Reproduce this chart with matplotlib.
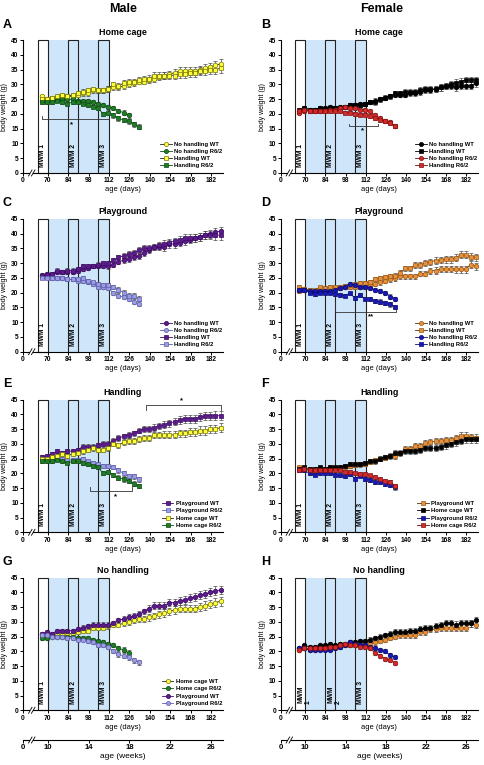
# Body weight curves, male / female, home cage vs playground, handling vs no handling
import matplotlib.pyplot as plt
from matplotlib.lines import Line2D
from matplotlib.patches import Rectangle

plt.rcParams['font.family'] = ['Liberation Sans', 'DejaVu Sans']
plt.rcParams['font.weight'] = 'bold'

# age of the weighings (days)
days_wt = [66, 69.5, 73, 76.5, 80, 83.5, 87, 90.5, 94, 97.5, 101, 104.5, 108, 111.5,
           115, 118.5, 122, 125.5, 129, 132.5, 136, 139.5, 143, 146.5, 150, 153.5,
           157, 160.5, 164, 167.5, 171, 174.5, 178, 181.5, 185, 188.5]
days_tg = days_wt[:20]

# male body weights (g): hc = home cage, pg = playground, nh = no handling, h = handling
m_hc_nh_wt = [26, 25, 25.5, 25.5, 26, 26, 26, 26.5, 27, 27, 28, 28, 28, 28.5, 29, 29, 29.5, 30,
              30.5, 31, 31, 31.5, 32, 32.5, 33, 33.5, 34, 34.5, 34.5, 34.5, 34.5, 35, 35.5, 36, 36.5, 37]
m_hc_h_wt = [25, 25, 25.5, 26, 26.5, 26, 26.5, 27, 27.5, 28, 28.5, 28, 28, 28.5, 30, 29.5, 30.5, 31,
             31, 31.5, 32, 32, 33, 33, 33, 33, 33, 33.5, 33.5, 34, 34, 34.5, 34.5, 35, 35, 35.5]
m_pg_nh_wt = [26, 26.5, 26, 27, 27, 27, 27, 27.5, 28, 28.5, 29, 29, 29, 29, 29.5, 30.5, 31, 31.5,
              32, 32.5, 33.5, 34.5, 35.5, 35.5, 35.5, 36.5, 36.5, 37, 37.5, 38, 38.5, 39, 39.5, 40, 40.5, 40.8]
m_pg_h_wt = [25.5, 26, 26.5, 27.5, 27, 27.5, 27.5, 28, 29, 29, 29, 29.5, 30, 30, 31, 32, 32.5, 33,
             33.5, 34.5, 35, 35, 35.5, 36, 36.5, 37, 37.5, 38, 38.5, 38.5, 38.5, 39, 39.5, 39.5, 39.5, 39.5]
m_hc_nh_tg = [24.5, 24.5, 25, 25, 25, 25, 25, 24.5, 24.5, 24.5, 24, 23.5, 23, 22.5, 22, 21, 20.5, 19.5]
m_hc_h_tg = [24, 24, 24, 24.5, 24, 23.5, 24, 24, 23.5, 23, 22.5, 22, 20, 20.5, 19.5, 18.5, 18, 17.5, 16.5, 15.7]
m_pg_nh_tg = [25.5, 25.5, 25, 25, 25, 24.5, 24.5, 24, 24, 23.5, 23, 22, 22, 21.5, 20, 19, 18.5, 18, 17, 16.3]
m_pg_h_tg = [25, 25, 25, 25, 25, 24.5, 24.5, 24.5, 25, 24, 23.5, 23, 22.5, 22.5, 22, 21, 20, 19, 19, 18]

# female body weights (g)
f_hc_nh_wt = [21, 22, 21.5, 21.5, 22, 22, 22.5, 22, 22.5, 22.5, 23, 23, 23.5, 23.5, 24, 24.5, 25, 25.5,
              26, 26.5, 26.5, 26.5, 27, 27, 27.5, 28, 28, 28.5, 29, 29.5, 29.5, 29, 29.5, 29.5, 29.5, 30.5]
f_hc_h_wt = [21.5, 22, 21.5, 21.5, 22, 21.5, 22, 22, 22, 22.5, 23, 23, 23, 23.5, 24, 24, 25, 25.5,
             26, 27, 27, 27.5, 27.5, 27.5, 28, 28.5, 28.5, 28.5, 29, 29.5, 30, 30.5, 31, 31.5, 31.5, 31.5]
f_pg_nh_wt = [20.5, 21, 20.5, 20.5, 21, 21, 21, 21.5, 21.5, 22, 22, 22, 22, 22, 22.5, 23, 23.5, 24,
              24.5, 25, 25.5, 25.5, 25.5, 25.5, 26.5, 26.5, 27.5, 27.5, 28, 28, 28, 28, 28, 28, 29.5, 29]
f_pg_h_wt = [22, 21.3, 21, 20.9, 21.8, 21.5, 22, 21.8, 22, 22.3, 22.5, 22.8, 23.2, 23.2, 23.7, 24.5, 24.9, 25.2,
             25.7, 25.8, 26.8, 28.3, 28.3, 29.4, 29.4, 30.2, 30.5, 30.9, 31, 31.3, 31.3, 31.9, 32.8, 32.8, 32.2, 32]
f_hc_nh_tg = [20.5, 21, 21, 21, 21, 21, 21.5, 21.5, 22, 22.5, 22, 22, 21.5, 21.5, 21, 19.5, 18.5, 17.5, 17.2, 16]
f_hc_h_tg = [21, 21.5, 21, 21, 21, 21, 21, 21, 21, 20.5, 20.5, 20, 19.8, 19.8, 19.3, 18.6, 18, 17.5, 17, 15.8]
f_pg_nh_tg = [21, 21, 20.5, 20.5, 20.5, 20.5, 20.5, 21, 21.5, 22, 23, 22.5, 22, 22, 21.5, 21, 20.5, 20, 18.7, 18]
f_pg_h_tg = [21, 21, 20, 19.5, 20, 20, 20, 19.5, 19.3, 19, 19.8, 18.2, 19.2, 18, 17.8, 17.2, 17, 16.5, 16, 15.2]

# SEM (g)
err_m_wt = [0.6, 0.6, 0.6, 0.7, 0.7, 0.7, 0.7, 0.7, 0.8, 0.8, 0.8, 0.8, 0.8, 0.9, 0.9, 0.9, 0.9, 1.0,
            1.0, 1.0, 1.0, 1.1, 1.1, 1.1, 1.2, 1.2, 1.2, 1.3, 1.3, 1.3, 1.3, 1.4, 1.4, 1.4, 1.5, 1.5]
err_m_tg = [0.5, 0.5, 0.5, 0.5, 0.5, 0.5, 0.6, 0.6, 0.6, 0.6, 0.6, 0.7, 0.7, 0.7, 0.7, 0.8, 0.8, 0.8, 0.8, 0.8]
err_f_wt = [0.5, 0.5, 0.5, 0.5, 0.5, 0.6, 0.6, 0.6, 0.6, 0.6, 0.7, 0.7, 0.7, 0.7, 0.7, 0.8, 0.8, 0.8,
            0.8, 0.9, 0.9, 0.9, 0.9, 1.0, 1.0, 1.0, 1.0, 1.1, 1.1, 1.1, 1.1, 1.2, 1.2, 1.2, 1.2, 1.2]
err_f_tg = [0.5, 0.5, 0.5, 0.5, 0.5, 0.5, 0.5, 0.5, 0.6, 0.6, 0.6, 0.6, 0.6, 0.6, 0.6, 0.7, 0.7, 0.7, 0.7, 0.7]

mwm_boxes = [(63.2, 70.2), (83.8, 91.0), (104.7, 111.9)]
mwm_names = ['MWM 1', 'MWM 2', 'MWM 3']
day_ticks = [70, 84, 98, 112, 126, 140, 154, 168, 182]
week_ticks = [10, 14, 18, 22, 26]

# face, edge, line colours
styles = {
    'm_hc_wt': ('#ffff3a', '#77770a', '#222222'),
    'm_hc_tg': ('#1f7d25', '#0b4a10', '#0b4a10'),
    'm_pg_wt': ('#5c1a8c', '#3a0a60', '#3a0a60'),
    'm_pg_tg': ('#9c9ce2', '#5c5cac', '#5c5cac'),
    'f_hc_wt': ('#000000', '#000000', '#000000'),
    'f_hc_tg': ('#d42a2a', '#8a1010', '#5a1010'),
    'f_pg_wt': ('#e8903a', '#9a5812', '#4a3010'),
    'f_pg_tg': ('#1818b8', '#0a0a70', '#0a0a70'),
}

XMIN, XMAX = 53, 190
FS_TICK = 4.8

lefts = [23 / 485, 280.7 / 485]
widths = [199.7 / 485, 197.3 / 485]
bottoms = [0.7739, 0.5403, 0.3042, 0.0715]
height = 0.1735


def draw_break(ax, x, px_h):
    dy = 3.0 / px_h
    tr = ax.get_xaxis_transform()
    ax.add_patch(Rectangle((x - 1.0, -dy), 2.0, 2 * dy, transform=tr, facecolor='white',
                           edgecolor='none', clip_on=False, zorder=5))
    for x0 in (x - 1.0, x + 1.0):
        ax.plot([x0 - 1.2, x0 + 1.2], [-dy, dy], transform=tr, color='k', lw=0.6,
                clip_on=False, zorder=6)


def setup_axes(ax, split_labels=False):
    ax.add_patch(Rectangle((70, 0), 42, 45, facecolor='#cfe6fa', edgecolor='none', zorder=0))
    for (x0, x1), name in zip(mwm_boxes, mwm_names):
        fc = 'white' if x0 < 70 else 'none'
        ax.add_patch(Rectangle((x0, 0), x1 - x0, 45, facecolor=fc, edgecolor='#222222',
                               lw=0.8, zorder=1, clip_on=False))
        xc = (x0 + x1) / 2
        if split_labels and name != 'MWM 3':
            ax.text(xc + 0.4, 2.4, 'MWM', rotation=90, ha='center', va='bottom',
                    fontsize=4.8, zorder=2)
            ax.text(x1 + 1.8, 2.2, name[-1], rotation=90, ha='center', va='bottom',
                    fontsize=4.8, zorder=2)
        else:
            ax.text(xc, 2.0, name, rotation=90, ha='center', va='bottom', fontsize=4.8, zorder=2)
    ax.set_xlim(XMIN, XMAX)
    ax.set_ylim(0, 45)
    ax.set_yticks(range(0, 46, 5))
    ax.set_xticks([XMIN] + day_ticks)
    ax.set_xticklabels(['0'] + [str(d) for d in day_ticks])
    for s in ('top', 'right'):
        ax.spines[s].set_visible(False)
    for s in ('left', 'bottom'):
        ax.spines[s].set_linewidth(0.8)
    ax.tick_params(labelsize=FS_TICK, length=2, width=0.7, pad=1.2)
    ax.set_ylabel('body weight (g)', fontsize=5.0, labelpad=2)
    ax.set_xlabel('age (days)', fontsize=5.4, labelpad=1.5)
    draw_break(ax, 59, 132.5)


def plot_series(ax, x, y, e, key, marker):
    fc, ec, lc = styles[key]
    ms = 3.3 if marker == 'o' else 3.1
    ax.errorbar(x, y, yerr=e, color=lc, marker=marker, mfc=fc, mec=ec, ms=ms, mew=0.5,
                lw=0.6, ecolor='#4a4a4a', elinewidth=0.5, capsize=1.3, capthick=0.5, zorder=3)


def add_legend(ax, entries):
    handles = []
    for key, marker, label in entries:
        fc, ec, lc = styles[key]
        handles.append(Line2D([0], [0], color=lc, marker=marker, mfc=fc, mec=ec, ms=3.0,
                              mew=0.5, lw=0.6, label=label))
    ax.legend(handles=handles, loc='lower right', bbox_to_anchor=(1.0, 0.03), frameon=False,
              fontsize=4.2, handlelength=2.0, handletextpad=0.4, labelspacing=0.35,
              borderpad=0.1, borderaxespad=0)


def bracket(ax, x0, x1, y, y_left, y_right, star, sx, sy):
    ax.plot([x0, x0, x1, x1], [y_left, y, y, y_right], color='#333333', lw=0.6,
            clip_on=False, zorder=4)
    ax.text(sx, sy, star, ha='center', va='center', fontsize=5.5, zorder=4)


fig = plt.figure(figsize=(4.85, 7.65), dpi=100)

panels = [
    # (row, col, letter, title, series, legend)
    (0, 0, 'A', 'Home cage',
     [(days_wt, m_hc_nh_wt, err_m_wt, 'm_hc_wt', 'o', 'No handling WT'),
      (days_tg[:18], m_hc_nh_tg, err_m_tg[:18], 'm_hc_tg', 'o', 'No handling R6/2'),
      (days_wt, m_hc_h_wt, err_m_wt, 'm_hc_wt', 's', 'Handling WT'),
      (days_tg, m_hc_h_tg, err_m_tg, 'm_hc_tg', 's', 'Handling R6/2')], True),
    (0, 1, 'B', 'Home cage',
     [(days_wt, f_hc_nh_wt, err_f_wt, 'f_hc_wt', 'o', 'No handling WT'),
      (days_wt, f_hc_h_wt, err_f_wt, 'f_hc_wt', 's', 'Handling WT'),
      (days_tg, f_hc_nh_tg, err_f_tg, 'f_hc_tg', 'o', 'No handling R6/2'),
      (days_tg, f_hc_h_tg, err_f_tg, 'f_hc_tg', 's', 'Handling R6/2')], True),
    (1, 0, 'C', 'Playground',
     [(days_wt, m_pg_nh_wt, err_m_wt, 'm_pg_wt', 'o', 'No handling WT'),
      (days_tg, m_pg_nh_tg, err_m_tg, 'm_pg_tg', 'o', 'No handling R6/2'),
      (days_wt, m_pg_h_wt, err_m_wt, 'm_pg_wt', 's', 'Handling WT'),
      (days_tg, m_pg_h_tg, err_m_tg, 'm_pg_tg', 's', 'Handling R6/2')], True),
    (1, 1, 'D', 'Playground',
     [(days_wt, f_pg_nh_wt, err_f_wt, 'f_pg_wt', 'o', 'No handling WT'),
      (days_wt, f_pg_h_wt, err_f_wt, 'f_pg_wt', 's', 'Handling WT'),
      (days_tg, f_pg_nh_tg, err_f_tg, 'f_pg_tg', 'o', 'No handling R6/2'),
      (days_tg, f_pg_h_tg, err_f_tg, 'f_pg_tg', 's', 'Handling R6/2')], True),
    (2, 0, 'E', 'Handling',
     [(days_wt, m_pg_h_wt, err_m_wt, 'm_pg_wt', 's', 'Playground WT'),
      (days_tg, m_pg_h_tg, err_m_tg, 'm_pg_tg', 's', 'Playground R6/2'),
      (days_wt, m_hc_h_wt, err_m_wt, 'm_hc_wt', 's', 'Home cage WT'),
      (days_tg, m_hc_h_tg, err_m_tg, 'm_hc_tg', 's', 'Home cage R6/2')], True),
    (2, 1, 'F', 'Handling',
     [(days_wt, f_pg_h_wt, err_f_wt, 'f_pg_wt', 's', 'Playground WT'),
      (days_wt, f_hc_h_wt, err_f_wt, 'f_hc_wt', 's', 'Home cage WT'),
      (days_tg, f_pg_h_tg, err_f_tg, 'f_pg_tg', 's', 'Playground R6/2'),
      (days_tg, f_hc_h_tg, err_f_tg, 'f_hc_tg', 's', 'Home cage R6/2')], True),
    (3, 0, 'G', 'No handling',
     [(days_wt, m_hc_nh_wt, err_m_wt, 'm_hc_wt', 'o', 'Home cage WT'),
      (days_tg[:18], m_hc_nh_tg, err_m_tg[:18], 'm_hc_tg', 'o', 'Home cage R6/2'),
      (days_wt, m_pg_nh_wt, err_m_wt, 'm_pg_wt', 'o', 'Playground WT'),
      (days_tg, m_pg_nh_tg, err_m_tg, 'm_pg_tg', 'o', 'Playground R6/2')], True),
    (3, 1, 'H', 'No handling',
     [(days_wt, f_pg_nh_wt, err_f_wt, 'f_pg_wt', 'o', 'Playground WT'),
      (days_wt, f_hc_nh_wt, err_f_wt, 'f_hc_wt', 'o', 'Home cage WT'),
      (days_tg, f_pg_nh_tg, err_f_tg, 'f_pg_tg', 'o', 'Playground R6/2'),
      (days_tg, f_hc_nh_tg, err_f_tg, 'f_hc_tg', 'o', 'Home cage R6/2')], False),
]

axes = {}
for row, col, letter, title, series, show_leg in panels:
    ax = fig.add_axes([lefts[col], bottoms[row], widths[col], height])
    axes[letter] = ax
    setup_axes(ax, split_labels=(letter == 'H'))
    for x, y, e, key, marker, label in series:
        plot_series(ax, x, y, e, key, marker)
    if show_leg:
        add_legend(ax, [(k, m, lab) for _, _, _, k, m, lab in series])
    ax.set_title(title, fontsize=6.4, fontweight='bold', pad=3.5)
    top_px = 765 * (1 - bottoms[row] - height)
    fig.text((3 if col == 0 else 261.5) / 485, 1 - (top_px - 12.5) / 765, letter,
             fontsize=9, fontweight='bold', ha='left', va='baseline')

# significance markers
bracket(axes['A'], 66, 112.3, 18.3, 19.2, 18.3, '*', 86.5, 16.4)
bracket(axes['B'], 100.5, 120.5, 15.8, 16.7, 16.7, '*', 110, 14.4)
bracket(axes['D'], 91, 133, 13.4, 17.0, 14.2, '**', 116, 12.0)
bracket(axes['E'], 137.5, 188.5, 43.0, 41.4, 41.4, '*', 162, 44.6)
bracket(axes['E'], 99.3, 128, 13.9, 15.4, 15.4, '*', 116.4, 12.0)

# weeks axis under the bottom row
for col in (0, 1):
    axw = fig.add_axes([lefts[col], 1 - 740 / 765, widths[col], 0.02])
    axw.patch.set_visible(False)
    for s in ('top', 'right', 'left'):
        axw.spines[s].set_visible(False)
    axw.spines['bottom'].set_linewidth(0.8)
    axw.set_xlim(XMIN, XMAX)
    axw.set_yticks([])
    axw.set_xticks([XMIN] + [w * 7 for w in week_ticks])
    axw.set_xticklabels(['0'] + [str(w) for w in week_ticks])
    axw.tick_params(labelsize=5.6, length=2, width=0.7, pad=1.2)
    axw.set_xlabel('age (weeks)', fontsize=6, labelpad=1.2)
    draw_break(axw, 59, 765 * 0.02)

fig.text(123 / 485, 1 - 11.7 / 765, 'Male', fontsize=9, fontweight='bold', ha='center', va='baseline')
fig.text(381.7 / 485, 1 - 11.7 / 765, 'Female', fontsize=9, fontweight='bold', ha='center', va='baseline')

fig.savefig('out.png', dpi=100)
